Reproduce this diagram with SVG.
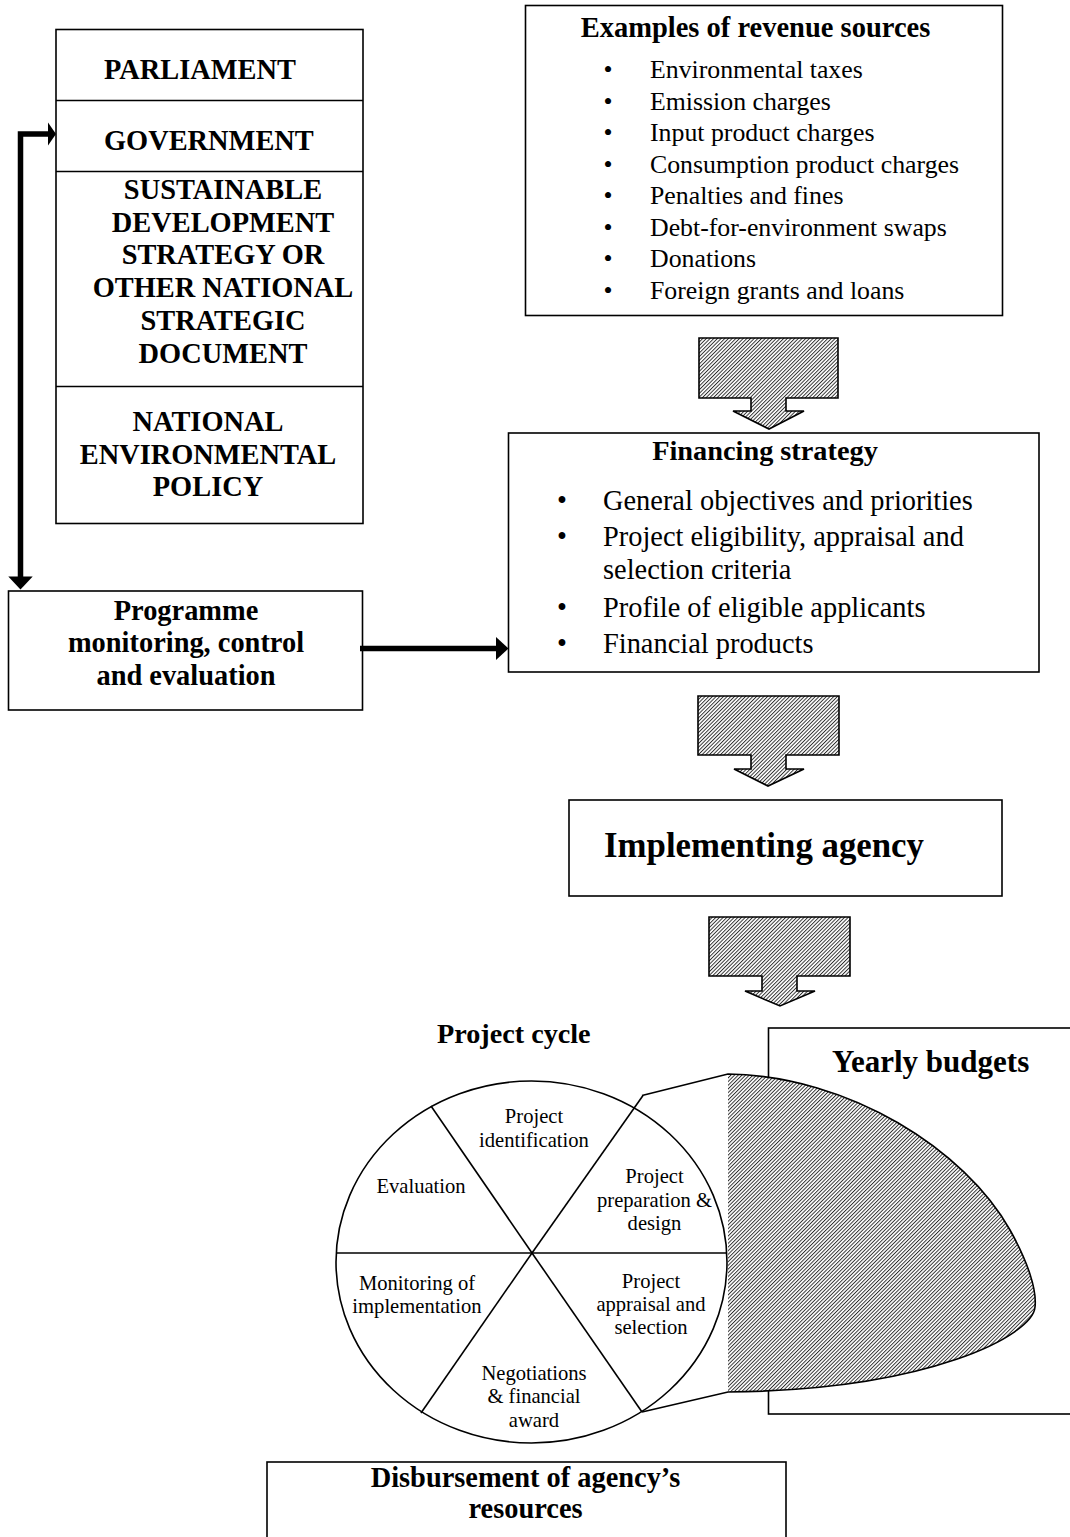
<svg xmlns="http://www.w3.org/2000/svg" width="1070" height="1537" viewBox="0 0 1070 1537">
<defs>
<pattern id="hatch" width="2.6" height="2.6" patternUnits="userSpaceOnUse" patternTransform="rotate(45)">
<rect width="2.6" height="2.6" fill="#fff"/>
<line x1="0.5" y1="0" x2="0.5" y2="2.6" stroke="#222" stroke-width="0.9"/>
</pattern>
<style>
.box{fill:#fff;stroke:#000;stroke-width:1.6}
.ln{fill:none;stroke:#000;stroke-width:1.6}
.harrow{fill:url(#hatch);stroke:#000;stroke-width:1.6;stroke-linejoin:miter}
.b{font-family:"Liberation Serif","Times New Roman",serif;font-weight:bold;fill:#000}
.r{font-family:"Liberation Serif","Times New Roman",serif;fill:#000}
.c{text-anchor:middle}
.conn{fill:none;stroke:#000;stroke-width:5.5}
</style>
</defs>
<rect width="1070" height="1537" fill="#fff"/>

<g id="stack">
<rect class="box" x="56" y="29.5" width="307" height="494"/>
<line class="ln" x1="56" y1="100.5" x2="363" y2="100.5"/>
<line class="ln" x1="56" y1="171.5" x2="363" y2="171.5"/>
<line class="ln" x1="56" y1="386.5" x2="363" y2="386.5"/>
</g>
<g id="parliament"><text class="b" x="104" y="78.5" font-size="28.4">PARLIAMENT</text></g>
<g id="government"><text class="b" x="104" y="149.5" font-size="28.4">GOVERNMENT</text></g>
<g id="strategy" class="b c" font-size="28.4">
<text x="223" y="199">SUSTAINABLE</text>
<text x="223" y="231.5">DEVELOPMENT</text>
<text x="223" y="264">STRATEGY OR</text>
<text x="223" y="297">OTHER NATIONAL</text>
<text x="223" y="329.5">STRATEGIC</text>
<text x="223" y="363">DOCUMENT</text>
</g>
<g id="policy" class="b c" font-size="28.4">
<text x="208" y="431">NATIONAL</text>
<text x="208" y="464">ENVIRONMENTAL</text>
<text x="208" y="496">POLICY</text>
</g>

<g id="programme">
<rect class="box" x="8.5" y="591" width="354" height="119"/>
<g class="b c" font-size="28.4">
<text x="186" y="620">Programme</text>
<text x="186" y="652">monitoring, control</text>
<text x="186" y="685">and evaluation</text>
</g>
</g>

<g id="revenue">
<rect class="box" x="525.5" y="5.5" width="477" height="310"/>
<text class="b c" x="755.5" y="37" font-size="28.5">Examples of revenue sources</text>
<g class="r c" font-size="25.8">
<text x="608" y="78">•</text><text x="608" y="109.5">•</text><text x="608" y="141">•</text><text x="608" y="172.5">•</text>
<text x="608" y="204">•</text><text x="608" y="235.5">•</text><text x="608" y="267">•</text><text x="608" y="298.5">•</text>
</g>
<g class="r" font-size="25.8">
<text x="650" y="78">Environmental taxes</text>
<text x="650" y="109.5">Emission charges</text>
<text x="650" y="141">Input product charges</text>
<text x="650" y="172.5">Consumption product charges</text>
<text x="650" y="204">Penalties and fines</text>
<text x="650" y="235.5">Debt-for-environment swaps</text>
<text x="650" y="267">Donations</text>
<text x="650" y="298.5">Foreign grants and loans</text>
</g>
</g>

<g id="arrow1"><path class="harrow" d="M699,338 H838 V398 H786 V411 H804 L769,429 L733,411 H751 V398 H699 Z"/></g>

<g id="financing">
<rect class="box" x="508.5" y="433" width="530.5" height="239"/>
<text class="b c" x="765" y="460" font-size="28.3">Financing strategy</text>
<g class="r c" font-size="28.4">
<text x="562" y="510">•</text><text x="562" y="546">•</text><text x="562" y="617">•</text><text x="562" y="653">•</text>
</g>
<g class="r" font-size="28.4">
<text x="603" y="510">General objectives and priorities</text>
<text x="603" y="546">Project eligibility, appraisal and</text>
<text x="603" y="579">selection criteria</text>
<text x="603" y="617">Profile of eligible applicants</text>
<text x="603" y="653">Financial products</text>
</g>
</g>

<g id="arrow2"><path class="harrow" d="M698,696 H839 V755 H786 V769 H804 L768,786 L734,769 H751 V755 H698 Z"/></g>

<g id="agency">
<rect class="box" x="569" y="800" width="433" height="96"/>
<text class="b" x="604" y="857" font-size="34.8">Implementing agency</text>
</g>

<g id="arrow3"><path class="harrow" d="M709,917 H850 V976 H797 V991 H815 L780,1006 L745,991 H762 V976 H709 Z"/></g>

<g id="projectcycle">
<text class="b" x="437" y="1043" font-size="28.2">Project cycle</text>
<line class="ln" x1="532" y1="1253" x2="643" y2="1095.5"/>
<line class="ln" x1="532" y1="1253" x2="642" y2="1412"/>
<line class="ln" x1="532" y1="1253" x2="431" y2="1106"/>
<line class="ln" x1="532" y1="1253" x2="421" y2="1413"/>
<line class="ln" x1="336.2" y1="1253" x2="726.8" y2="1253"/>
<ellipse cx="531.5" cy="1262" rx="195.5" ry="181" fill="none" stroke="#000" stroke-width="1.6"/>
<g class="r c" font-size="20.6">
<text x="534" y="1123">Project</text>
<text x="534" y="1147">identification</text>
<text x="421" y="1193">Evaluation</text>
<text x="654.5" y="1183">Project</text>
<text x="654.5" y="1207">preparation &amp;</text>
<text x="654.5" y="1230">design</text>
<text x="417" y="1290">Monitoring of</text>
<text x="417" y="1313">implementation</text>
<text x="651" y="1288">Project</text>
<text x="651" y="1311">appraisal and</text>
<text x="651" y="1334">selection</text>
<text x="534" y="1380">Negotiations</text>
<text x="534" y="1403">&amp; financial</text>
<text x="534" y="1427">award</text>
</g>
</g>

<g id="budgets">
<rect class="box" x="768.5" y="1028" width="320" height="386"/>
<text class="b" x="832" y="1071.5" font-size="31">Yearly budgets</text>
<path d="M728,1074 C850,1076 965,1150 1010,1230 C1028,1262 1037,1290 1035,1307 C1033,1335 930,1390 728,1392 Z" fill="url(#hatch)" stroke="none"/>
<path class="ln" d="M642,1095.5 L728,1074 C850,1076 965,1150 1010,1230 C1028,1262 1037,1290 1035,1307 C1033,1335 930,1390 728,1392 L642,1412"/>
</g>

<g id="disbursement">
<rect class="box" x="267" y="1462" width="519" height="90"/>
<g class="b c" font-size="28.4">
<text x="525.5" y="1487">Disbursement of agency’s</text>
<text x="525.5" y="1518">resources</text>
</g>
</g>

<g id="connectors">
<polyline class="conn" points="49,134 20.5,134 20.5,578"/>
<polygon points="48,122.5 56,134 48,145.5" fill="#000"/>
<polygon points="8.3,576.5 32.7,576.5 20.5,589.5" fill="#000"/>
<line class="conn" x1="360" y1="648.5" x2="497" y2="648.5"/>
<polygon points="496,637 508.5,648.5 496,660" fill="#000"/>
</g>
</svg>
